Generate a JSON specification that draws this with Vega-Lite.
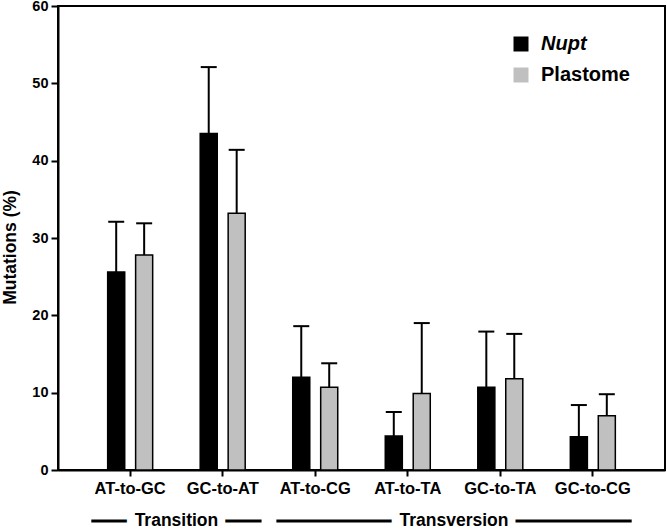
{
  "$schema": "https://vega.github.io/schema/vega-lite/v6.json",
  "width": 607,
  "height": 464,
  "autosize": {"type": "none"},
  "padding": {"left": 58, "top": 6, "right": 2, "bottom": 61},
  "background": "white",
  "config": {
    "view": {"stroke": "black", "strokeWidth": 2},
    "axis": {"domainColor": "black", "domainWidth": 2, "tickColor": "black", "tickWidth": 2, "grid": false, "labelColor": "black", "titleColor": "black"}
  },
  "datasets": {
    "bars": [
      {"category": "AT-to-GC", "series": "Nupt", "value": 25.6, "upper": 32.1},
      {"category": "AT-to-GC", "series": "Plastome", "value": 27.8, "upper": 31.9},
      {"category": "GC-to-AT", "series": "Nupt", "value": 43.5, "upper": 52.1},
      {"category": "GC-to-AT", "series": "Plastome", "value": 33.2, "upper": 41.4},
      {"category": "AT-to-CG", "series": "Nupt", "value": 12.0, "upper": 18.6},
      {"category": "AT-to-CG", "series": "Plastome", "value": 10.7, "upper": 13.8},
      {"category": "AT-to-TA", "series": "Nupt", "value": 4.4, "upper": 7.5},
      {"category": "AT-to-TA", "series": "Plastome", "value": 9.9, "upper": 19.0},
      {"category": "GC-to-TA", "series": "Nupt", "value": 10.7, "upper": 17.9},
      {"category": "GC-to-TA", "series": "Plastome", "value": 11.8, "upper": 17.6},
      {"category": "GC-to-CG", "series": "Nupt", "value": 4.3, "upper": 8.4},
      {"category": "GC-to-CG", "series": "Plastome", "value": 7.0, "upper": 9.8}
    ],
    "groups": [
      {"group": "Transition", "first": "AT-to-GC", "last": "GC-to-AT", "mid": "AT-to-GC"},
      {"group": "Transversion", "first": "AT-to-CG", "last": "GC-to-CG", "mid": "AT-to-TA"}
    ]
  },
  "layer": [
    {
      "data": {"name": "bars"},
      "mark": {"type": "bar", "stroke": "black", "strokeWidth": 1.5},
      "encoding": {
        "x": {
          "field": "category", "type": "nominal",
          "scale": {"domain": ["AT-to-GC", "GC-to-AT", "AT-to-CG", "AT-to-TA", "GC-to-TA", "GC-to-CG"], "paddingInner": 0, "paddingOuter": 0.28},
          "axis": {"title": null, "labelAngle": 0, "labelFont": "Liberation Sans", "labelFontWeight": "bold", "labelFontSize": 16.5, "labelPadding": 4, "tickSize": 6}
        },
        "xOffset": {"field": "series", "type": "nominal", "scale": {"paddingInner": 0.39, "paddingOuter": 0.85}},
        "y": {
          "field": "value", "type": "quantitative",
          "scale": {"domain": [0, 60], "nice": false},
          "axis": {"title": "Mutations (%)", "values": [0, 10, 20, 30, 40, 50, 60], "labelFont": "Liberation Sans", "labelFontWeight": "bold", "labelFontSize": 14.5, "labelPadding": 3, "tickSize": 7, "titleFont": "Liberation Sans", "titleFontWeight": "bold", "titleFontSize": 17.5, "titlePadding": 12, "titleY": 241}
        },
        "color": {
          "field": "series", "type": "nominal",
          "scale": {"domain": ["Nupt", "Plastome"], "range": ["#000000", "#c0c0c0"]},
          "legend": {
            "title": null, "orient": "none", "legendX": 453, "legendY": 28, "padding": 0,
            "symbolType": "square", "symbolSize": 225, "symbolStrokeWidth": 0, "symbolOpacity": 1,
            "labelFont": "Liberation Sans", "labelFontWeight": "bold", "labelFontSize": 20, "labelColor": "black", "labelOffset": 10, "rowPadding": 11,
            "labelFontStyle": {"expr": "datum.label === 'Nupt' ? 'italic' : 'normal'"}
          }
        }
      }
    },
    {
      "data": {"name": "bars"},
      "mark": {"type": "rule", "color": "black", "strokeWidth": 2},
      "encoding": {
        "x": {"field": "category", "type": "nominal"},
        "xOffset": {"field": "series", "type": "nominal"},
        "y": {"field": "value", "type": "quantitative"},
        "y2": {"field": "upper"}
      }
    },
    {
      "data": {"name": "bars"},
      "mark": {"type": "tick", "color": "black", "thickness": 2, "size": 16, "opacity": 1},
      "encoding": {
        "x": {"field": "category", "type": "nominal"},
        "xOffset": {"field": "series", "type": "nominal"},
        "y": {"field": "upper", "type": "quantitative"}
      }
    },
    {
      "data": {"name": "groups"},
      "mark": {"type": "rule", "color": "black", "strokeWidth": 3},
      "encoding": {
        "x": {"field": "first", "type": "nominal", "bandPosition": 0.08},
        "x2": {"field": "last", "bandPosition": 0.92},
        "y": {"datum": -6.6, "type": "quantitative"}
      }
    },
    {
      "data": {"name": "groups"},
      "mark": {"type": "text", "font": "Liberation Sans", "fontWeight": "bold", "fontSize": 17.5, "fill": "white", "stroke": "white", "strokeWidth": 16, "baseline": "middle", "align": "center"},
      "encoding": {
        "x": {"field": "mid", "type": "nominal", "bandPosition": 1},
        "y": {"datum": -6.6, "type": "quantitative"},
        "text": {"field": "group"}
      }
    },
    {
      "data": {"name": "groups"},
      "mark": {"type": "text", "font": "Liberation Sans", "fontWeight": "bold", "fontSize": 17.5, "fill": "black", "baseline": "middle", "align": "center"},
      "encoding": {
        "x": {"field": "mid", "type": "nominal", "bandPosition": 1},
        "y": {"datum": -6.6, "type": "quantitative"},
        "text": {"field": "group"}
      }
    }
  ]
}
